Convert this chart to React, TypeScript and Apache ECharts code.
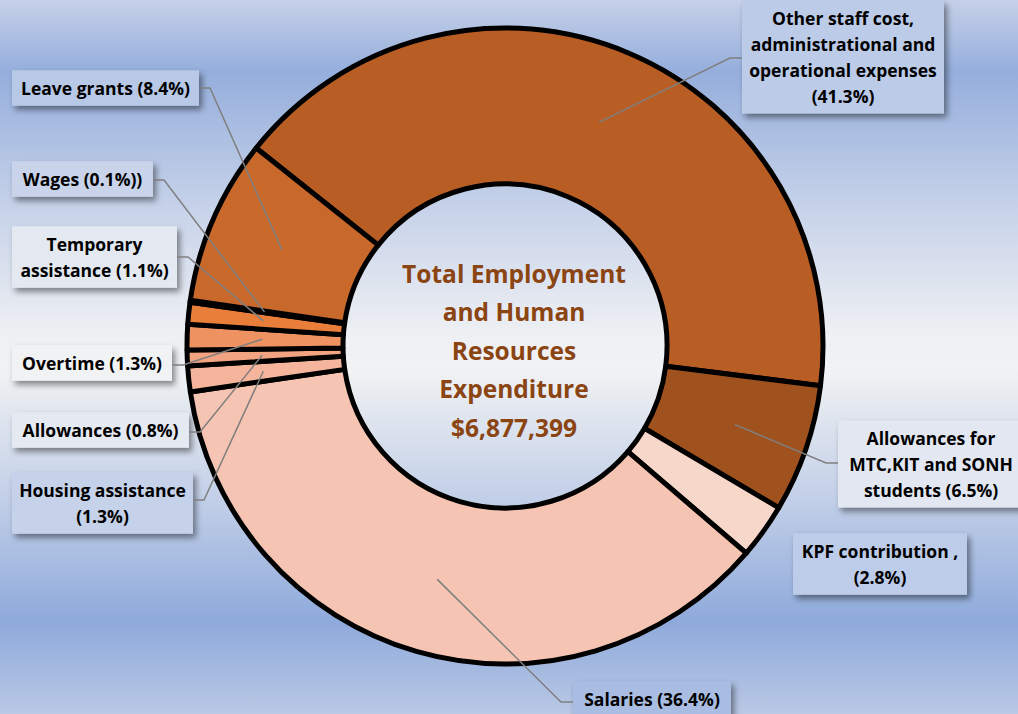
import React, { useEffect, useRef } from "react";
import * as echarts from "echarts";

// ---- Data ----
const categories = [
  "Other staff cost, administrational and operational expenses",
  "Allowances for MTC,KIT and SONH students",
  "KPF contribution",
  "Salaries",
  "Housing assistance",
  "Allowances",
  "Overtime",
  "Temporary assistance",
  "Wages",
  "Leave grants",
];
const shares = [41.3, 6.5, 2.8, 36.4, 1.3, 0.8, 1.3, 1.1, 0.1, 8.4];
const labelTemplates = [
  "Other staff cost,\nadministrational and\noperational expenses\n({v}%)",
  "Allowances for\nMTC,KIT and SONH\nstudents ({v}%)",
  "KPF contribution ,\n({v}%)",
  "Salaries ({v}%)",
  "Housing assistance\n({v}%)",
  "Allowances ({v}%)",
  "Overtime ({v}%)",
  "Temporary\nassistance ({v}%)",
  "Wages ({v}%))",
  "Leave grants ({v}%)",
];
const centerLines = ["Total Employment", "and Human", "Resources", "Expenditure", "$6,877,399"];

// ---- Styles / layout ----
const sliceColors = [
  "#B85D24", "#A0521E", "#F8D7CB", "#F5C4B2", "#F4B59C",
  "#F1A382", "#EE9262", "#E97D3A", "#D8722E", "#C8692B",
];
const CX = 505;
const CY = 346;
const R_IN = 162;
const R_OUT = 318;
const ANCHOR_R = 243;
const START_ANGLE = 141.5;
const FONT = "'Open Sans', 'Noto Sans', sans-serif";

type Box = { cx: number; cy: number; w: number; side: "left" | "right"; lineY?: number; bg: string };
const labelBoxes: Box[] = [
  { cx: 843, cy: 57, w: 202, side: "right", lineY: 58, bg: "#BCCBE8" },
  { cx: 931, cy: 464, w: 186, side: "right", lineY: 463, bg: "#E2E7F1" },
  { cx: 880, cy: 564, w: 174, side: "right", bg: "#BDCCE8" },
  { cx: 652, cy: 699, w: 158, side: "right", lineY: 702, bg: "#A9BDE2" },
  { cx: 12 + 181 / 2, cy: 503, w: 181, side: "left", lineY: 500, bg: "#C6D2EA" },
  { cx: 12 + 177 / 2, cy: 430, w: 177, side: "left", lineY: 432, bg: "#E4E9F2" },
  { cx: 12 + 160 / 2, cy: 363, w: 160, side: "left", lineY: 365, bg: "#F1F2F4" },
  { cx: 12 + 165 / 2, cy: 257, w: 165, side: "left", lineY: 257, bg: "#E3E8F1" },
  { cx: 12 + 141 / 2, cy: 179, w: 141, side: "left", lineY: 180, bg: "#C9D4EB" },
  { cx: 12 + 187 / 2, cy: 88, w: 187, side: "left", lineY: 88, bg: "#B8C8E7" },
];
const PAD_H = 4;
const PAD_V = 5;

export default function App() {
  const ref = useRef<HTMLDivElement>(null);
  useEffect(() => {
    if (!ref.current) return;
    const chart = echarts.init(ref.current, undefined, { renderer: "svg" });
    const total = shares.reduce((a, b) => a + b, 0);
    const cum: number[] = [];
    shares.reduce((acc, v, i) => {
      cum[i] = acc;
      return acc + v;
    }, 0);

    // leader lines: start inside each slice at its mid-angle
    const leaderLines: any[] = [];
    categories.forEach((_, i) => {
      const b = labelBoxes[i];
      if (b.lineY === undefined) return;
      const mid = cum[i] + shares[i] / 2;
      const ang = ((START_ANGLE - (mid / total) * 360) * Math.PI) / 180;
      const ax = CX + ANCHOR_R * Math.cos(ang);
      const ay = CY - ANCHOR_R * Math.sin(ang);
      const endX = b.side === "left" ? b.cx + b.w / 2 : b.cx - b.w / 2;
      const elbowX = b.side === "left" ? endX + 11 : endX - 12;
      leaderLines.push({
        type: "polyline",
        z: 100,
        silent: true,
        shape: { points: [[ax, ay], [elbowX, b.lineY], [endX, b.lineY]] },
        style: { stroke: "#7F7F7F", lineWidth: 1.5, fill: null },
      });
    });

    const data = categories.map((name, i) => {
      const b = labelBoxes[i];
      return {
        name,
        value: shares[i],
        itemStyle: { color: sliceColors[i] },
        label: { width: b.w - PAD_H * 2, backgroundColor: b.bg },
      };
    });
    chart.setOption({
      animation: false,
      backgroundColor: {
        type: "linear",
        x: 0, y: 0, x2: 0, y2: 1,
        colorStops: [
          { offset: 0, color: "#C6D1E8" },
          { offset: 0.1, color: "#95AEDC" },
          { offset: 0.3, color: "#C9D4EA" },
          { offset: 0.47, color: "#EEF0F3" },
          { offset: 0.52, color: "#F0F2F3" },
          { offset: 0.7, color: "#C2CFE8" },
          { offset: 0.87, color: "#8EAADB" },
          { offset: 1, color: "#BAC8E5" },
        ],
      },
      graphic: [
        {
          type: "text",
          x: 514,
          y: 350,
          silent: true,
          z: 100,
          style: {
            text: centerLines.join("\n"),
            align: "center",
            verticalAlign: "middle",
            textAlign: "center",
            textVerticalAlign: "middle",
            fontFamily: FONT,
            fontWeight: "bold",
            fontSize: 24.5,
            lineHeight: 38.5,
            fill: "#8B4513",
          },
        },
        ...leaderLines,
      ],
      series: [
        {
          type: "pie",
          center: [CX, CY],
          radius: [R_IN, R_OUT],
          startAngle: START_ANGLE,
          clockwise: true,
          avoidLabelOverlap: false,
          silent: true,
          itemStyle: { borderColor: "#000", borderWidth: 5 },
          label: {
            show: true,
            position: "outside",
            formatter: (p: any) => labelTemplates[p.dataIndex].replace("{v}", Number(p.value).toFixed(1)),
            color: "#000",
            fontFamily: FONT,
            fontWeight: "bold",
            fontSize: 17.5,
            lineHeight: 25.7,
            align: "center",
            overflow: "none",
            padding: [PAD_V, PAD_H],
            shadowColor: "rgba(0,0,0,0.45)",
            shadowBlur: 6,
            shadowOffsetX: 3,
            shadowOffsetY: 4,
          },
          labelLine: { show: false },
          labelLayout: (params: any) => {
            const b = labelBoxes[params.dataIndex];
            return { x: b.cx, y: b.cy, align: "center", verticalAlign: "middle" };
          },
          data,
        },
      ],
    });
    return () => chart.dispose();
  }, []);
  return (
    <div
      ref={ref}
      style={{ position: "fixed", left: 0, top: 0, width: 1018, height: 714 }}
    />
  );
}
